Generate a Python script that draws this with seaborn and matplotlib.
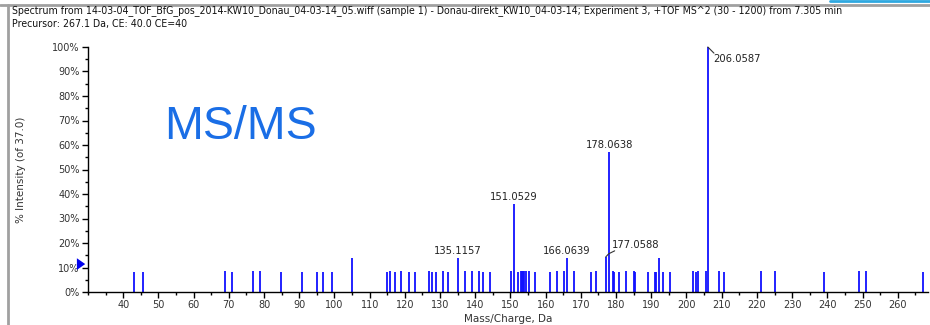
import matplotlib
matplotlib.use("Agg")
import matplotlib.pyplot as plt
import matplotlib.ticker as mticker
from matplotlib.lines import Line2D
import seaborn as sns
import pandas as pd

# ---- data ----
mz = [43.0, 45.7, 68.9, 70.8, 76.8, 78.9, 84.8, 90.8, 95.1, 96.8, 99.3, 105.0,
      115.0, 115.9, 117.1, 119.0, 121.1, 122.8, 127.0, 127.8, 128.8, 130.9, 132.2,
      135.1157, 137.1, 139.1, 141.0, 142.3, 144.2, 150.1, 151.0529, 152.1, 153.0,
      153.3, 153.6, 153.9, 154.5, 155.3, 157.1, 161.1, 163.1, 165.1, 166.0639,
      168.1, 173.0, 174.2, 177.0588, 178.0638, 179.0, 179.4, 180.7, 182.8, 185.0,
      185.4, 189.2, 191.0, 191.3, 192.1, 193.3, 195.2, 201.9, 202.8, 203.2, 205.5,
      206.0587, 209.2, 210.7, 221.1, 225.2, 239.1, 249.1, 251.1, 267.1]
intensity = [8.3, 8.3, 8.7, 8.3, 8.7, 8.7, 8.3, 8.3, 8.3, 8.3, 8.3, 13.7,
             8.3, 8.5, 8.3, 8.5, 8.3, 8.3, 8.5, 8.3, 8.3, 8.5, 8.3,
             14.0, 8.5, 8.5, 8.5, 8.3, 8.3, 8.6, 36.0, 8.3, 8.5,
             8.6, 8.6, 8.6, 8.5, 8.5, 8.3, 8.3, 8.5, 8.5, 14.0,
             8.5, 8.3, 8.5, 14.3, 57.0, 8.5, 8.3, 8.3, 8.5, 8.5,
             8.3, 8.3, 8.3, 8.3, 14.0, 8.3, 8.3, 8.5, 8.3, 8.5, 8.5,
             100.0, 8.5, 8.3, 8.5, 8.5, 8.3, 8.5, 8.5, 8.3]
label_mz = [206.0587, 178.0638, 151.0529, 135.1157, 166.0639, 177.0588]
label_text = ["206.0587", "178.0638", "151.0529", "135.1157", "166.0639", "177.0588"]
x_ticks = list(range(40, 270, 10))
y_ticks = list(range(0, 110, 10))
header1 = ("Spectrum from 14-03-04_TOF_BfG_pos_2014-KW10_Donau_04-03-14_05.wiff (sample 1) - "
           "Donau-direkt_KW10_04-03-14; Experiment 3, +TOF MS^2 (30 - 1200) from 7.305 min")
header2 = "Precursor: 267.1 Da, CE: 40.0 CE=40"

df = pd.DataFrame({"mz": mz, "intensity": intensity})

sns.set_theme(style="ticks")
plt.rcParams["font.family"] = ["DejaVu Sans"]

W, H = 930, 325
fig = plt.figure(figsize=(W / 100, H / 100), dpi=100)
fig.patch.set_facecolor("white")

def fx(px):
    return px / W

def fy(py):
    return 1 - py / H

ax = fig.add_axes([fx(88), fy(292), fx(928) - fx(88), fy(47) - fy(292)])
ax.set_facecolor("white")

ax.vlines(df["mz"], 0, df["intensity"], colors="#1010ff", linewidth=1.3)
ax.set_xlim(30.0, 268.6)
ax.set_ylim(0, 100)

sns.despine(ax=ax)
for s in ("left", "bottom"):
    ax.spines[s].set_color("#000000")
    ax.spines[s].set_linewidth(1.0)

ax.set_xticks(x_ticks)
ax.set_yticks(y_ticks)
ax.xaxis.set_minor_locator(mticker.MultipleLocator(5))
ax.yaxis.set_minor_locator(mticker.MultipleLocator(5))
ax.yaxis.set_major_formatter(mticker.FuncFormatter(lambda v, p: f"{int(v)}%"))
ax.tick_params(axis="both", which="major", direction="out", length=4, width=1,
               color="#000000", labelsize=7, labelcolor="#333333", pad=2)
ax.tick_params(axis="both", which="minor", direction="out", length=2, width=1,
               color="#000000")
ax.set_xlabel("Mass/Charge, Da", fontsize=7.5, color="#333333", labelpad=3)
ax.set_ylabel("% Intensity (of 37.0)", fontsize=7.5, color="#333333")
ax.yaxis.set_label_coords(-0.074, 0.5)

# peak labels
lab_col = "#222222"
pos = {"206.0587": (1.5, 95.1, "left"),
       "178.0638": (0.0, 60.0, "center"),
       "151.0529": (0.0, 38.8, "center"),
       "135.1157": (0.0, 16.7, "center"),
       "166.0639": (0.0, 16.7, "center"),
       "177.0588": (8.5, 19.2, "center")}
for m, t in zip(label_mz, label_text):
    dx, yy, ha = pos[t]
    ax.text(m + dx, yy, t, fontsize=7.2, color=lab_col, ha=ha, va="center")
# leader lines
ax.plot([206.0587, 207.8], [100, 97.5], color="#333333", lw=0.8, clip_on=False)
ax.plot([177.0588, 177.9, 179.6], [14.3, 15.6, 16.8], color="#333333", lw=0.8)

# precursor arrow on y axis
ax.annotate("", xy=(0.0, 11.4), xytext=(-0.014, 11.4),
            xycoords=ax.get_yaxis_transform(), textcoords=ax.get_yaxis_transform(),
            arrowprops=dict(arrowstyle="simple,head_length=0.5,head_width=0.7,tail_width=0.35",
                            color="#0000ee", lw=0), annotation_clip=False)

# MS/MS label
fig.text(fx(164), fy(127), "MS/MS", fontsize=33.5, color="#1a6ee6",
         family="Liberation Sans", ha="left", va="center")

# header
fig.text(fx(12), fy(11), header1, fontsize=7.6, color="#111111", ha="left", va="center",
         fontstretch="condensed")
fig.text(fx(12), fy(24), header2, fontsize=7.6, color="#111111", ha="left", va="center",
         fontstretch="condensed")

# window borders
fig.add_artist(Line2D([fx(0), fx(930)], [fy(5), fy(5)], color="#a0a0a0", lw=2))
fig.add_artist(Line2D([fx(8), fx(8)], [fy(5), fy(325)], color="#a0a0a0", lw=2))
fig.add_artist(Line2D([fx(830), fx(930)], [fy(0.5), fy(0.5)], color="#2ea8e0", lw=2))

fig.savefig("out.png", dpi=100, facecolor="white")
